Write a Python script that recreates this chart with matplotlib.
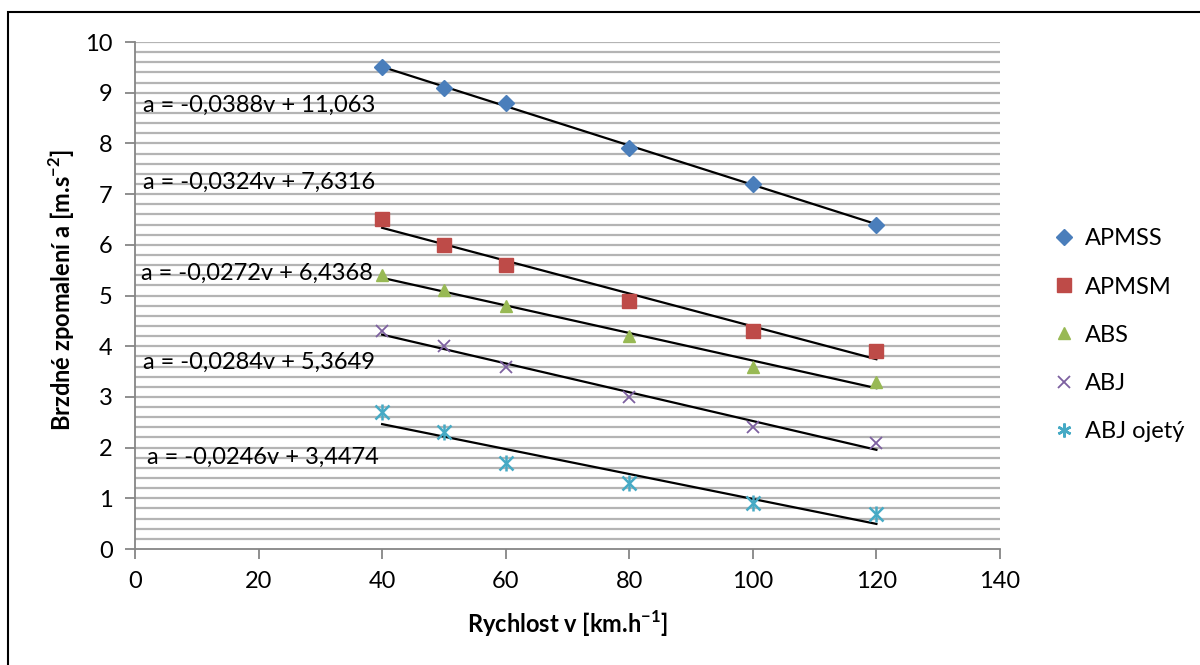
import matplotlib.pyplot as plt
import numpy as np
from matplotlib.patches import Rectangle
from matplotlib.lines import Line2D

plt.rcParams['font.family'] = ['Lato', 'DejaVu Sans']
plt.rcParams['mathtext.fontset'] = 'custom'
plt.rcParams['mathtext.rm'] = 'Lato'
plt.rcParams['mathtext.bf'] = 'Lato:bold'

# rychlosti [km/h] a namerena zpomaleni [m/s2]
v = [40, 50, 60, 80, 100, 120]
apmss = [9.5, 9.1, 8.8, 7.9, 7.2, 6.4]
apmsm = [6.5, 6.0, 5.6, 4.9, 4.3, 3.9]
abs_ = [5.4, 5.1, 4.8, 4.2, 3.6, 3.3]
abj = [4.3, 4.0, 3.6, 3.0, 2.4, 2.1]
abj_ojety = [2.7, 2.3, 1.7, 1.3, 0.9, 0.7]

names = ['APMSS', 'APMSM', 'ABS', 'ABJ', 'ABJ ojetý']
slopes = [-0.0388, -0.0324, -0.0272, -0.0284, -0.0246]
intercepts = [11.063, 7.6316, 6.4368, 5.3649, 3.4474]
eq_labels = ['a = -0,0388v + 11,063', 'a = -0,0324v + 7,6316',
             'a = -0,0272v + 6,4368', 'a = -0,0284v + 5,3649',
             'a = -0,0246v + 3,4474']
eq_pos = [(1.3, 8.76), (1.3, 7.24), (0.9, 5.44), (1.3, 3.69), (2.0, 1.81)]

series = [apmss, apmsm, abs_, abj, abj_ojety]
colors = ['#4a7ebb', '#be4b48', '#98b954', '#7d60a0', '#46aac5']
markers = ['D', 's', '^', 'x', 'star']
sizes = [8, 10, 9, 9, 10]
FS = 17


def draw_marker(target, xs, ys, k):
    # hvezdicka = krizek + svisla carka
    if markers[k] == 'x':
        return target.plot(xs, ys, ls='none', marker='x', ms=sizes[k], mew=1.3,
                           color=colors[k], zorder=3)
    if markers[k] == 'star':
        target.plot(xs, ys, ls='none', marker='|', ms=sizes[k] + 1, mew=1.8,
                    color=colors[k], zorder=3)
        return target.plot(xs, ys, ls='none', marker='x', ms=sizes[k], mew=1.8,
                           color=colors[k], zorder=3)
    return target.plot(xs, ys, ls='none', marker=markers[k], ms=sizes[k],
                       color=colors[k], mec=colors[k], zorder=3)


fig = plt.figure(figsize=(12, 6.65), dpi=100)
ax = fig.add_axes([0.1125, 0.1744, 0.7208, 0.7624])

# vodorovna mrizka po 0,2
for g in np.arange(0.2, 10.01, 0.2):
    ax.axhline(g, color='#b4b4b4', lw=1.6, zorder=0)

vv = np.array([40, 120])
for k in range(5):
    ax.plot(vv, slopes[k] * vv + intercepts[k], color='black', lw=1.6, zorder=2)
    draw_marker(ax, v, series[k], k)
    ax.text(eq_pos[k][0], eq_pos[k][1], eq_labels[k], fontsize=FS,
            va='center', ha='left', zorder=4)

ax.set_xlim(0, 140)
ax.set_ylim(0, 10)
ax.set_xticks(range(0, 141, 20))
ax.set_yticks(range(0, 11))
for s in ['top', 'right']:
    ax.spines[s].set_visible(False)
for s in ['left', 'bottom']:
    ax.spines[s].set_color('#868686')
    ax.spines[s].set_linewidth(1.3)
ax.tick_params(direction='out', length=7, width=1.3, color='#868686',
               labelsize=FS, pad=9)

ax.set_xlabel('Rychlost v [km.h$^{\\mathbf{-1}}$]', fontsize=FS,
              fontweight='bold', labelpad=12)
ax.set_ylabel('Brzdné zpomalení a [m.s$^{\\mathbf{-2}}$]', fontsize=FS,
              fontweight='bold')
ax.yaxis.set_label_coords(-0.067, 0.51)

# polozky legendy
handles = []
for k in range(5):
    if markers[k] == 'x':
        h = Line2D([], [], ls='none', marker='x', ms=sizes[k], mew=1.3,
                   color=colors[k])
    elif markers[k] == 'star':
        h = Line2D([], [], ls='none', marker=(6, 2, 0), ms=sizes[k], mew=1.8,
                   color=colors[k])
    else:
        h = Line2D([], [], ls='none', marker=markers[k], ms=sizes[k],
                   color=colors[k], mec=colors[k])
    handles.append(h)
fig.legend(handles, names, loc='center left', bbox_to_anchor=(0.861, 0.496),
           frameon=False, fontsize=FS, labelspacing=1.15, handlelength=0.8,
           handletextpad=0.5)

fig.patches.append(Rectangle((8 / 1200, -0.05), 1.2, 1 - 12 / 665 + 0.05,
                             transform=fig.transFigure, fill=False,
                             ec='black', lw=1.5))

fig.savefig('out.png', dpi=100)
